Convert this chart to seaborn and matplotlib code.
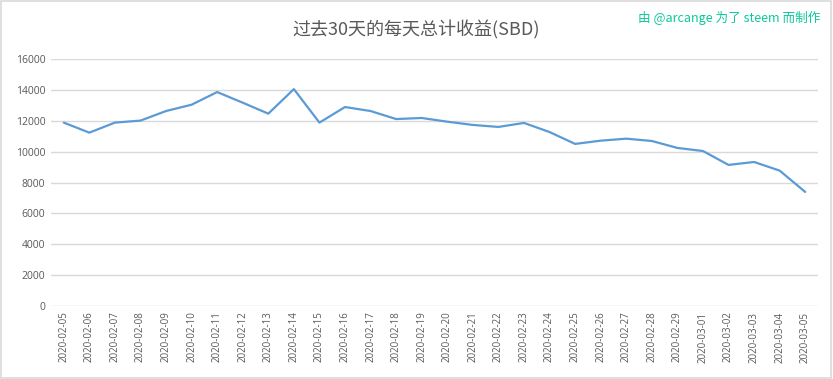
import matplotlib
matplotlib.use("Agg")
import matplotlib.pyplot as plt
import seaborn as sns
import pandas as pd
from matplotlib.patches import Rectangle

dates = ["2020-02-05", "2020-02-06", "2020-02-07", "2020-02-08", "2020-02-09",
         "2020-02-10", "2020-02-11", "2020-02-12", "2020-02-13", "2020-02-14",
         "2020-02-15", "2020-02-16", "2020-02-17", "2020-02-18", "2020-02-19",
         "2020-02-20", "2020-02-21", "2020-02-22", "2020-02-23", "2020-02-24",
         "2020-02-25", "2020-02-26", "2020-02-27", "2020-02-28", "2020-02-29",
         "2020-03-01", "2020-03-02", "2020-03-03", "2020-03-04", "2020-03-05"]
values = [11880, 11230, 11880, 12010, 12630, 13040, 13860, 13170, 12460, 14050,
          11880, 12890, 12630, 12110, 12180, 11940, 11730, 11600, 11860, 11270,
          10500, 10710, 10840, 10690, 10240, 10040, 9140, 9330, 8770, 7390]
yticks = [0, 2000, 4000, 6000, 8000, 10000, 12000, 14000, 16000]

title = "过去30天的每天总计收益(SBD)"
credit = "由 @arcange 为了 steem 而制作"

sns.set_theme(style="white")
plt.rcParams['font.family'] = ['Noto Sans CJK SC', 'DejaVu Sans']

df = pd.DataFrame({"date": dates, "value": values})
df["idx"] = range(len(dates))

fig = plt.figure(figsize=(8.33, 3.79), dpi=100)
ax = fig.add_axes([0.0612, 0.1926, 0.9208, 0.6517])

sns.lineplot(data=df, x="idx", y="value", ax=ax, color="#5B9BD5", linewidth=1.6)

ax.set_xlim(-0.5, len(dates) - 0.5)
ax.set_ylim(0, 16000)
ax.set_yticks(yticks)
ax.set_yticklabels([str(v) for v in yticks], fontsize=7.5, color="#595959",
                   family=['Open Sans', 'DejaVu Sans'])
ax.set_xticks(df["idx"])
ax.set_xticklabels(dates, rotation=90, fontsize=7, color="#595959",
                   family=['Open Sans', 'DejaVu Sans'])
ax.tick_params(axis='both', length=0, pad=4)
ax.yaxis.grid(True, color="#d9d9d9", linewidth=1)
ax.xaxis.grid(False)
for s in ax.spines.values():
    s.set_visible(False)
ax.set_xlabel("")
ax.set_ylabel("")

fig.text(0.5, 0.92, title, ha="center", va="center", fontsize=13, color="#595959")
fig.text(0.985, 0.952, credit, ha="right", va="center", fontsize=9.1, color="#0cc99c")

fig.patches.append(Rectangle((0.001, 0.002), 0.997, 0.995, transform=fig.transFigure,
                             fill=False, edgecolor="#d9d9d9", linewidth=1.2))

fig.savefig("out.png", dpi=100)
